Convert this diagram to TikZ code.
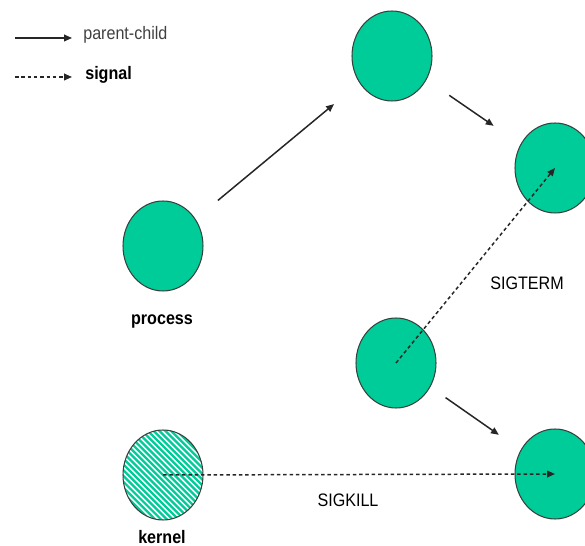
\documentclass[tikz,border=0pt]{standalone}
\usepackage{fontspec}
\setmainfont{Liberation Sans}
\usetikzlibrary{positioning,shapes.geometric,arrows.meta}
\definecolor{procgreen}{RGB}{0,204,153}
\definecolor{rimgray}{RGB}{55,65,60}

\begin{document}
\begin{tikzpicture}[x=0.02cm,y=-0.02cm,
    proc/.style={ellipse,draw=rimgray,line width=0.6pt,fill=procgreen,minimum width=1.6cm,minimum height=1.8cm,inner sep=0pt},
    lbl/.style={font=\fontsize{10.3}{12}\selectfont,xscale=0.89,inner sep=0pt,anchor=base},
    boldlbl/.style={lbl,font=\fontsize{10.3}{12}\selectfont\bfseries},
    pc/.style={draw=black!85,line width=0.85pt,-{Triangle[length=4.5pt,width=3.8pt]}},
    sig/.style={pc,dash pattern=on 2pt off 1.6pt}]
  \useasboundingbox (0,0) rectangle (585,546);

  % legend
  \coordinate (pcstart) at (15,38);
  \coordinate (pcend) at (72,38);
  \coordinate (sigstart) at (15,77);
  \coordinate (sigend) at (72,77);
  \draw[pc] (pcstart) -- (pcend);
  \draw[sig] (sigstart) -- (sigend);
  \node[lbl,anchor=base west,text=black!75] (pclbl) at (83,40) {parent-child};
  \node[boldlbl,anchor=base west] (siglbl) at (85,80) {signal};

  % processes
  \node[proc] (process) at (163,246) {};
  \node[boldlbl] (processlbl) at (162,325) {process};
  \node[proc] (parent) at (392,56) {};
  \node[proc] (child1) at (555,168) {};
  \node[proc] (child2) at (396,363) {};
  \node[proc] (child3) at (555,474) {};
  \node[proc,fill=white,path picture={
      \foreach \k in {-20,...,20}
        \draw[procgreen,line width=1.3pt] ([xshift=\k*3.3pt]path picture bounding box.center) ++(-2cm,2cm) -- ++(4cm,-4cm);
    }] (kernel) at (163,475) {};
  \node[boldlbl] (kernellbl) at (162,544) {kernel};

  % parent-child
  \draw[pc,shorten <=0.58cm,shorten >=0.66cm] (process) -- (parent);
  \draw[pc,shorten <=0.55cm,shorten >=0.65cm] (parent) -- (child1);
  \draw[pc,shorten <=0.37cm,shorten >=0.53cm] (child2) -- (child3);

  % signals
  \draw[sig] (child2.center) -- (child1.center);
  \draw[sig] (kernel.center) -- (child3.center);
  \node[lbl] (sigterm) at (527,290) {SIGTERM};
  \node[lbl] (sigkill) at (348,507) {SIGKILL};
\end{tikzpicture}
\end{document}
